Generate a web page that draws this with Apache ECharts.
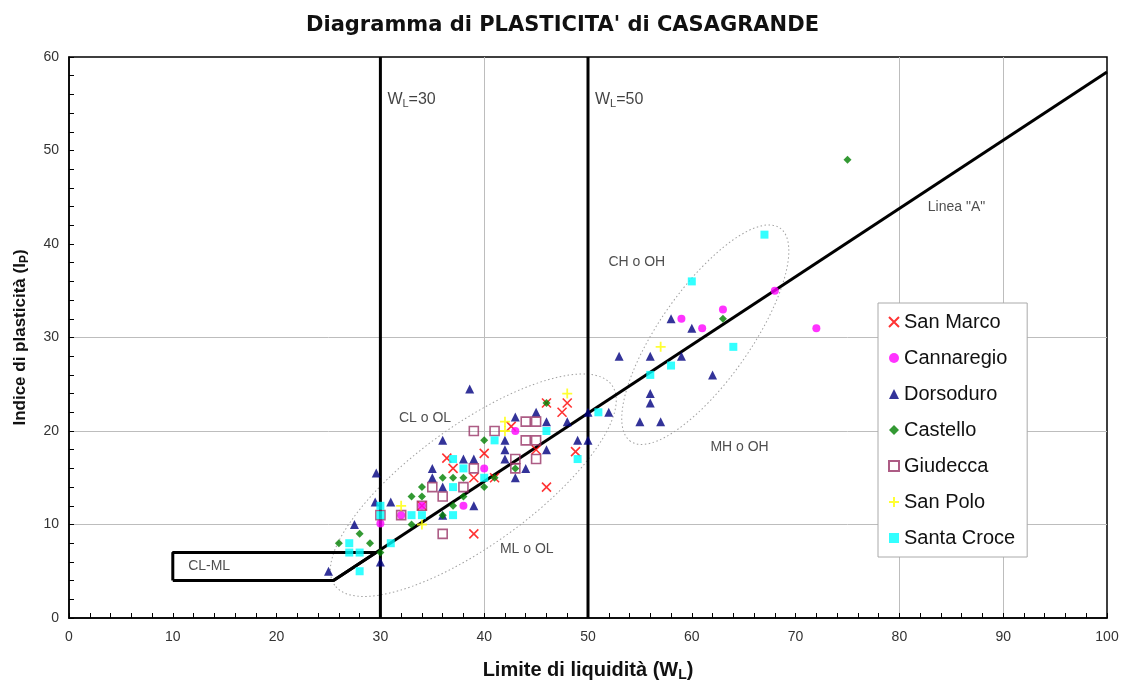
<!DOCTYPE html>
<html>
<head>
<meta charset="utf-8">
<title>Diagramma di plasticità</title>
<script src="https://cdn.jsdelivr.net/npm/echarts@6/dist/echarts.min.js"></script>
<style>
  html, body { margin: 0; padding: 0; background: #fff; }
  #plasticita { width: 1125px; height: 680px; }
</style>
</head>
<body>
<div id="plasticita"></div>
<script>
  // campioni per sestiere: [W_L, I_P]
  var sanMarco = [[46, 23], [48, 23], [47.5, 22], [42.6, 20.5], [36.4, 17.1], [40, 17.6], [37, 16], [39, 15],
    [41, 15], [45, 18], [48.8, 17.8], [46, 14], [39, 9], [34, 12]];
  var cannaregio = [[30, 10.1], [40, 16], [43, 20], [38, 12], [32, 11], [34, 12], [59, 32], [63, 33], [61, 31],
    [68, 35], [72, 31]];
  var dorsoduro = [[58, 32], [60, 31], [53, 28], [56, 28], [59, 28], [62, 26], [56, 24], [56, 23], [52, 22],
    [50, 22], [55, 21], [57, 21], [48, 21], [49, 19], [50, 19], [43, 21.5], [45, 22], [46, 21], [42, 18],
    [46, 18], [42, 17], [44, 16], [43, 15], [38.6, 24.5], [36, 19], [38, 17], [39, 17], [35, 16], [35, 15],
    [36, 14], [29.6, 15.5], [29.5, 12.4], [31, 12.4], [27.5, 10], [25, 5], [30, 6], [36, 11], [42, 19], [39, 12]];
  var castello = [[75, 49], [63, 32], [46, 23], [40, 19], [36, 15], [37, 15], [38, 15], [41, 15], [43, 16],
    [38, 13], [40, 14], [34, 14], [33, 13], [34, 13], [33, 10], [36, 11], [37, 12], [28, 9], [26, 8], [29, 8], [30, 7]];
  var giudecca = [[39, 20], [41, 20], [44, 21], [45, 21], [44, 19], [45, 19], [43, 17], [45, 17], [43, 16],
    [39, 16], [38, 14], [35, 14], [36, 13], [36, 9], [30, 11], [32, 11], [34, 12]];
  var sanPolo = [[57, 29], [48, 24], [42, 21], [42, 20], [32, 12], [34, 10]];
  var santaCroce = [[67, 41], [60, 36], [64, 29], [58, 27], [56, 26], [51, 22], [46, 20], [49, 17], [41, 19],
    [37, 17], [38, 16], [40, 15], [37, 14], [30, 12], [30, 11], [33, 11], [34, 11], [37, 11], [31, 8], [27, 8],
    [27, 7], [28, 7], [28, 5]];

  // linee del diagramma
  var lineaA = [[25.48, 4], [100, 58.4]];
  var boxCLML = [[10, 4], [25.48, 4], [29.59, 7], [10, 7], [10, 4]];
  var lineaWL30 = [[30, 0], [30, 60]];
  var lineaWL50 = [[50, 0], [50, 60]];
  var grigliaX = [40, 80, 90];
  var grigliaY = [10, 20, 30];

  // ellissi tratteggiate: estremi dell'asse maggiore
  var ellisseCL = [[25.6, 3.5], [52.3, 24.9]];
  var ellisseCH = [[54.1, 18.9], [68.5, 41.7]];

  // scritte delle zone
  var zone = [
    { name: 'CL o OL', value: [34.3, 21.4] },
    { name: 'CH o OH', value: [54.7, 38.1] },
    { name: 'MH o OH', value: [64.6, 18.3] },
    { name: 'ML o OL', value: [44.1, 7.4] },
    { name: 'CL-ML', value: [13.5, 5.5] },
    { name: 'Linea "A"', value: [85.5, 43.9] }
  ];
  var etichetteWL = [
    { name: '30', value: [30, 55.4] },
    { name: '50', value: [50, 55.4] }
  ];

  var nomiSestieri = ['San Marco', 'Cannaregio', 'Dorsoduro', 'Castello', 'Giudecca', 'San Polo', 'Santa Croce'];

  var chartDom = document.getElementById('plasticita');
  var myChart = echarts.init(chartDom);
  var option;

  function linea(nome, dati, spessore) {
    return {
      name: nome,
      type: 'line',
      data: dati,
      symbol: 'none',
      silent: true,
      z: 3,
      lineStyle: { color: '#000', width: spessore }
    };
  }

  function sestiere(nome, dati, simbolo, size, stile) {
    return {
      name: nome,
      type: 'scatter',
      data: dati,
      symbol: simbolo,
      symbolSize: size,
      z: 5,
      itemStyle: stile
    };
  }

  function richNome(size) {
    return {
      b: { fontSize: size, fontWeight: 'bold', color: '#111', fontFamily: 'Liberation Sans' },
      s: { fontSize: Math.round(size * 0.68), fontWeight: 'bold', color: '#111', fontFamily: 'Liberation Sans',
        padding: [Math.round(size / 2), 0, 0, 0] }
    };
  }

  option = {
    animation: false,
    textStyle: { fontFamily: 'Liberation Sans' },
    title: {
      text: "Diagramma di PLASTICITA' di CASAGRANDE",
      left: 'center',
      top: 10,
      textStyle: { fontSize: 21, fontWeight: 'bold', color: '#111', fontFamily: 'DejaVu Sans' }
    },
    legend: {
      data: nomiSestieri,
      orient: 'vertical',
      left: 878,
      top: 303,
      z: 20,
      backgroundColor: '#fff',
      borderColor: '#aaa',
      borderWidth: 1,
      borderRadius: 0,
      padding: [9, 12, 9, 10],
      itemGap: 16,
      itemWidth: 10,
      itemHeight: 10,
      textStyle: { fontSize: 20, color: '#111' }
    },
    grid: {
      left: 69,
      right: 18,
      top: 57,
      bottom: 62,
      outerBoundsMode: 'none',
      show: true,
      borderColor: '#000',
      borderWidth: 1.5
    },
    xAxis: {
      type: 'value',
      min: 0,
      max: 100,
      interval: 10,
      name: '{b|Limite di liquidità (W}{s|L}{b|)}',
      nameLocation: 'middle',
      nameGap: 40,
      nameTextStyle: { rich: richNome(20) },
      axisLine: { lineStyle: { color: '#000', width: 1.5 } },
      axisTick: { inside: true, length: 5, lineStyle: { color: '#000' } },
      minorTick: { show: true, splitNumber: 5, length: 5, lineStyle: { color: '#000' } },
      axisLabel: { fontSize: 14, color: '#333', margin: 12 },
      splitLine: { show: false }
    },
    yAxis: {
      type: 'value',
      min: 0,
      max: 60,
      interval: 10,
      name: '{b|Indice di plasticità (I}{s|P}{b|)}',
      nameLocation: 'middle',
      nameRotate: 90,
      nameGap: 38,
      nameTextStyle: { rich: richNome(17) },
      axisLine: { lineStyle: { color: '#000', width: 1.5 } },
      axisTick: { inside: true, length: 5, lineStyle: { color: '#000' } },
      minorTick: { show: true, splitNumber: 5, length: 5, lineStyle: { color: '#000' } },
      axisLabel: { fontSize: 14, color: '#333', margin: 10 },
      splitLine: { show: false }
    },
    series: [
      {
        name: 'griglia',
        type: 'line',
        data: [],
        silent: true,
        z: 0,
        markLine: {
          silent: true,
          symbol: 'none',
          z: 0,
          label: { show: false },
          lineStyle: { color: '#bdbdbd', width: 1, type: 'solid' },
          data: grigliaX.map(function (v) { return { xAxis: v }; })
            .concat(grigliaY.map(function (v) { return { yAxis: v }; }))
        }
      },
      linea('lineaA', lineaA, 3),
      linea('CL-ML', boxCLML, 3),
      linea('WL30', lineaWL30, 3),
      linea('WL50', lineaWL50, 3),
      sestiere('San Marco', sanMarco, 'path://M0,0L10,10M10,0L0,10', 9,
        { color: 'rgba(0,0,0,0)', borderColor: '#ff0000', borderWidth: 1.6 }),
      sestiere('Cannaregio', cannaregio, 'circle', 8, { color: '#ff00ff' }),
      sestiere('Dorsoduro', dorsoduro, 'triangle', 9, { color: '#000080' }),
      sestiere('Castello', castello, 'diamond', 8, { color: '#008000' }),
      sestiere('Giudecca', giudecca, 'rect', 9,
        { color: 'rgba(255,255,255,0)', borderColor: '#993366', borderWidth: 1.6 }),
      sestiere('San Polo', sanPolo, 'path://M5,0L5,10M0,5L10,5', 10,
        { color: 'rgba(0,0,0,0)', borderColor: '#ffff00', borderWidth: 1.8 }),
      sestiere('Santa Croce', santaCroce, 'rect', 8, { color: '#00ffff' }),
      {
        name: 'zone',
        type: 'scatter',
        data: zone,
        symbolSize: 0,
        silent: true,
        z: 4,
        label: {
          show: true,
          position: 'inside',
          formatter: '{b}',
          fontSize: 14,
          color: '#222'
        }
      },
      {
        name: 'etichetteWL',
        type: 'scatter',
        data: etichetteWL,
        symbolSize: 0,
        silent: true,
        z: 4,
        label: {
          show: true,
          position: 'right',
          distance: 7,
          formatter: function (p) {
            return '{a|W}{s|L}{a|=' + p.name + '}';
          },
          rich: {
            a: { fontSize: 16, color: '#111' },
            s: { fontSize: 11, color: '#111', padding: [8, 0, 0, 0] }
          }
        }
      }
    ]
  };

  option && myChart.setOption(option);

  function ellisse(estremi, rapporto) {
    var p1 = myChart.convertToPixel({ gridIndex: 0 }, estremi[0]);
    var p2 = myChart.convertToPixel({ gridIndex: 0 }, estremi[1]);
    var dx = p2[0] - p1[0];
    var dy = p2[1] - p1[1];
    var a = Math.sqrt(dx * dx + dy * dy) / 2;
    return {
      type: 'ellipse',
      x: (p1[0] + p2[0]) / 2,
      y: (p1[1] + p2[1]) / 2,
      rotation: Math.atan2(-dy, dx),
      shape: { cx: 0, cy: 0, rx: a, ry: a * rapporto },
      style: { fill: 'none', stroke: '#a0a0a0', lineWidth: 1, lineDash: [1.5, 2.5] },
      silent: true,
      z: 1
    };
  }

  myChart.setOption({
    graphic: [ellisse(ellisseCL, 0.35), ellisse(ellisseCH, 0.35)]
  });
</script>
</body>
</html>
